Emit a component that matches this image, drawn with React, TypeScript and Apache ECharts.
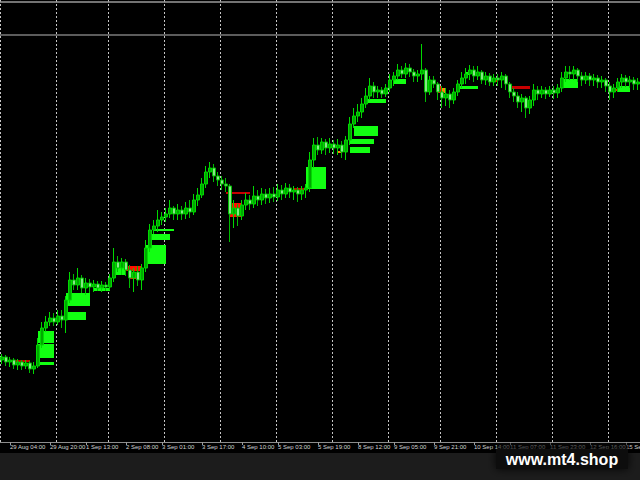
import React, { useEffect, useRef } from "react";
import * as echarts from "echarts";

// Hourly-ish bars: [open, close, low, high] in price points
const candles: number[][] = [
  [82, 85, 78, 88], [85, 80, 76, 87], [80, 82, 75, 85], [82, 77, 73, 84], [77, 80, 72, 83],
  [80, 76, 72, 82], [76, 79, 73, 82], [79, 73, 69, 81], [73, 76, 68, 80], [76, 97, 74, 104],
  [97, 114, 94, 120], [114, 120, 110, 126], [120, 124, 116, 130], [124, 120, 116, 129], [120, 126, 117, 132],
  [126, 122, 114, 132], [122, 142, 109, 146], [142, 162, 139, 170], [162, 157, 152, 168], [157, 164, 152, 174],
  [164, 154, 149, 167], [154, 159, 147, 164], [159, 155, 149, 163], [155, 158, 150, 162], [158, 154, 151, 161],
  [154, 157, 150, 161], [157, 155, 151, 160], [155, 164, 152, 168], [164, 180, 160, 194], [180, 174, 170, 186],
  [174, 180, 167, 184], [180, 172, 166, 183], [172, 164, 154, 177], [164, 170, 150, 174], [170, 162, 156, 176],
  [162, 174, 152, 178], [174, 194, 170, 202], [194, 212, 190, 218], [212, 216, 208, 222], [216, 222, 210, 232],
  [222, 225, 217, 230], [225, 228, 220, 234], [228, 234, 224, 242], [234, 228, 222, 236], [228, 232, 222, 238],
  [232, 228, 222, 236], [228, 234, 223, 240], [234, 230, 224, 242], [230, 242, 227, 248], [242, 247, 236, 254],
  [247, 258, 244, 264], [258, 270, 254, 276], [270, 274, 264, 280], [274, 266, 260, 278], [266, 262, 256, 270],
  [262, 258, 252, 266], [258, 256, 250, 264], [256, 228, 200, 258], [228, 234, 214, 242], [234, 226, 216, 238],
  [226, 237, 222, 242], [237, 242, 232, 249], [242, 238, 232, 247], [238, 246, 234, 256], [246, 242, 236, 252],
  [242, 248, 237, 254], [248, 244, 238, 253], [244, 248, 239, 254], [248, 245, 240, 255], [245, 252, 241, 258],
  [252, 248, 242, 257], [248, 254, 244, 259], [254, 250, 244, 258], [250, 252, 242, 256], [252, 248, 240, 255],
  [248, 252, 242, 256], [252, 254, 244, 258], [254, 282, 250, 290], [282, 297, 274, 304], [297, 292, 287, 305],
  [292, 300, 288, 304], [300, 294, 287, 303], [294, 298, 289, 304], [298, 294, 288, 302], [294, 297, 287, 303],
  [297, 290, 284, 301], [290, 302, 282, 306], [302, 318, 297, 325], [318, 326, 314, 334], [326, 330, 320, 338],
  [330, 338, 324, 344], [338, 346, 334, 354], [346, 356, 342, 364], [356, 350, 344, 360], [350, 352, 344, 356],
  [352, 348, 344, 355], [348, 354, 345, 358], [354, 362, 350, 368], [362, 366, 356, 370], [366, 372, 362, 378],
  [372, 368, 364, 376], [368, 374, 364, 379], [374, 370, 365, 378], [370, 366, 360, 373], [366, 368, 360, 372],
  [368, 372, 362, 398], [372, 350, 340, 374], [350, 362, 347, 366], [362, 358, 354, 366], [358, 350, 342, 360],
  [350, 344, 334, 356], [344, 348, 336, 354], [348, 342, 334, 352], [342, 350, 338, 354], [350, 358, 346, 362],
  [358, 364, 354, 370], [364, 368, 358, 374], [368, 372, 362, 377], [372, 366, 360, 376], [366, 370, 362, 376],
  [370, 362, 358, 372], [362, 366, 357, 370], [366, 360, 356, 369], [360, 364, 356, 368], [364, 362, 356, 368],
  [362, 366, 354, 370], [366, 358, 352, 368], [358, 350, 344, 360], [350, 346, 340, 354], [346, 340, 334, 350],
  [340, 344, 330, 348], [344, 334, 324, 346], [334, 342, 328, 346], [342, 352, 336, 358], [352, 348, 342, 356],
  [348, 352, 344, 356], [352, 348, 343, 355], [348, 352, 345, 356], [352, 349, 343, 356], [349, 354, 344, 358],
  [354, 364, 350, 370], [364, 370, 360, 376], [370, 368, 362, 376], [368, 372, 362, 376], [372, 366, 360, 374],
  [366, 362, 356, 370], [362, 366, 358, 370], [366, 362, 356, 369], [362, 364, 356, 368], [364, 360, 354, 367],
  [360, 362, 354, 366], [362, 356, 350, 364], [356, 350, 342, 360], [350, 354, 344, 358], [354, 360, 350, 364],
  [360, 364, 354, 368], [364, 360, 355, 367], [360, 362, 354, 366], [362, 358, 352, 365], [358, 360, 352, 364],
];

// time axis labels and the bar index they sit on
const tickIndex = [2, 12, 21, 31, 40, 50, 60, 69, 79, 89, 98, 108, 118, 127, 137, 147, 156];
const tickLabels = [
  "29 Aug 04:00", "29 Aug 20:00", "1 Sep 13:00", "2 Sep 08:00", "3 Sep 01:00", "3 Sep 17:00",
  "4 Sep 10:00", "5 Sep 03:00", "5 Sep 19:00", "8 Sep 12:00", "9 Sep 05:00", "9 Sep 21:00",
  "10 Sep 14:00", "11 Sep 07:00", "11 Sep 23:00", "12 Sep 16:00", "15 Sep 09:00",
];
// vertical separators (bar boundaries)
const separatorIndex = [0, 14, 27, 41, 55, 69, 83, 97, 110, 124, 138, 152];

// zones: [fromBar, toBar, upperPrice, lowerPrice]
const demandZones: number[][] = [
  [9, 13, 111, 99], [9, 13, 98, 84], [9, 13, 80, 77], [16, 22, 149, 136], [16, 21, 130, 122],
  [23, 27, 154, 151], [28, 31, 175, 167], [36, 41, 197, 178], [37, 42, 208, 202], [38, 43, 213, 211],
  [76, 81, 275, 253], [88, 94, 316, 306], [87, 93, 303, 298], [87, 92, 295, 289], [91, 96, 343, 339],
  [98, 101, 363, 358], [114, 119, 356, 353], [116, 117, 370, 367], [140, 144, 363, 354], [154, 157, 356, 350],
];
const supplyZones: number[][] = [
  [31, 35, 176, 171], [32, 34, 165, 163], [57, 60, 239, 225], [109, 110, 356, 349],
  [101, 102, 372, 370], [123, 124, 362, 360], [153, 154, 353, 351],
];
const supplyLines: number[][] = [
  [1, 7, 82, 80], [56, 62, 250, 248], [73, 76, 254, 252], [127, 132, 356, 353],
];
const mixedZones: number[][] = [
  [59.5, 60, 239, 227], [84, 85, 291, 289], [110, 110.5, 354, 349],
];
const levelLines = [407, 440];

export default function App() {
  const ref = useRef<HTMLDivElement>(null);
  useEffect(() => {
    const chart = echarts.init(ref.current!, undefined, { renderer: "svg" });
    const categories = candles.map((_, i) => String(i));
    const tickSet = new Set(tickIndex);
    const labelMap = new Map(tickIndex.map((t, k) => [t, tickLabels[k]]));
    const sepSet = new Set(separatorIndex);
    const zone = (z: number[], color: string) => [
      { xAxis: z[0], yAxis: z[2], itemStyle: { color, opacity: 1 } },
      { xAxis: z[1], yAxis: z[3] },
    ];
    chart.setOption({
      animation: false,
      backgroundColor: "#000000",
      grid: { left: 0, right: 0, top: 0, bottom: 38, containLabel: false, outerBoundsMode: "none" },
      xAxis: {
        type: "category",
        data: categories,
        boundaryGap: true,
        axisLine: { lineStyle: { color: "#8c8c8c", width: 1 } },
        axisTick: {
          show: true,
          alignWithLabel: true,
          interval: (i: number) => tickSet.has(i),
          length: 3,
          lineStyle: { color: "#9a9a9a" },
        },
        axisLabel: {
          interval: (i: number) => tickSet.has(i),
          formatter: (_v: string, i: number) => labelMap.get(i) ?? "",
          align: "left",
          color: "#d2d2d2",
          fontSize: 6,
          fontFamily: "Liberation Sans",
          margin: 2,
        },
        splitLine: {
          show: true,
          interval: (i: number) => sepSet.has(i),
          lineStyle: { color: "#c4c4c4", type: [2, 2], width: 1 },
        },
      },
      yAxis: { type: "value", min: 0, max: 442, show: false, splitLine: { show: false } },
      series: [
        {
          type: "candlestick",
          data: candles,
          barWidth: 3,
          z: 2,
          itemStyle: {
            color: "#00a800",
            borderColor: "#00d800",
            color0: "#86e886",
            borderColor0: "#00bb00",
            borderWidth: 1,
          },
          markLine: {
            silent: true,
            symbol: ["none", "none"],
            label: { show: false },
            data: [
              { yAxis: levelLines[0], lineStyle: { color: "#5c5c5c", width: 2, type: "solid" } },
              { yAxis: levelLines[1], lineStyle: { color: "#9a9a9a", width: 1.5, type: "solid" } },
            ],
          },
        },
        {
          type: "line",
          data: [],
          z: 5,
          silent: true,
          markArea: {
            silent: true,
            label: { show: false },
            data: [
              ...demandZones.map((z) => zone(z, "#12ff12")),
              ...supplyZones.map((z) => zone(z, "#ff1000")),
              ...supplyLines.map((z) => zone(z, "#c80000")),
              ...mixedZones.map((z) => zone(z, "#ff8a00")),
            ],
          },
        },
      ],
      graphic: [
        { type: "rect", shape: { x: 0, y: 453, width: 640, height: 27 }, style: { fill: "#1c1c1c" }, z: 10 },
        { type: "rect", shape: { x: 497, y: 443, width: 131, height: 7 }, style: { fill: "rgba(10,10,10,0.45)" }, z: 11 },
        {
          type: "rect",
          shape: { x: 496, y: 449, width: 132, height: 20 },
          style: { fill: "#0e0e0e", shadowBlur: 8, shadowColor: "rgba(0,0,0,0.9)" },
          z: 12,
        },
        {
          type: "text",
          x: 562,
          y: 459,
          style: {
            text: "www.mt4.shop",
            fill: "#ffffff",
            font: "bold 16px 'Liberation Sans'",
            align: "center",
            verticalAlign: "middle",
          },
          z: 13,
        },
      ],
    });
    return () => chart.dispose();
  }, []);
  return <div ref={ref} style={{ position: "fixed", left: 0, top: 0, width: 640, height: 480 }} />;
}
